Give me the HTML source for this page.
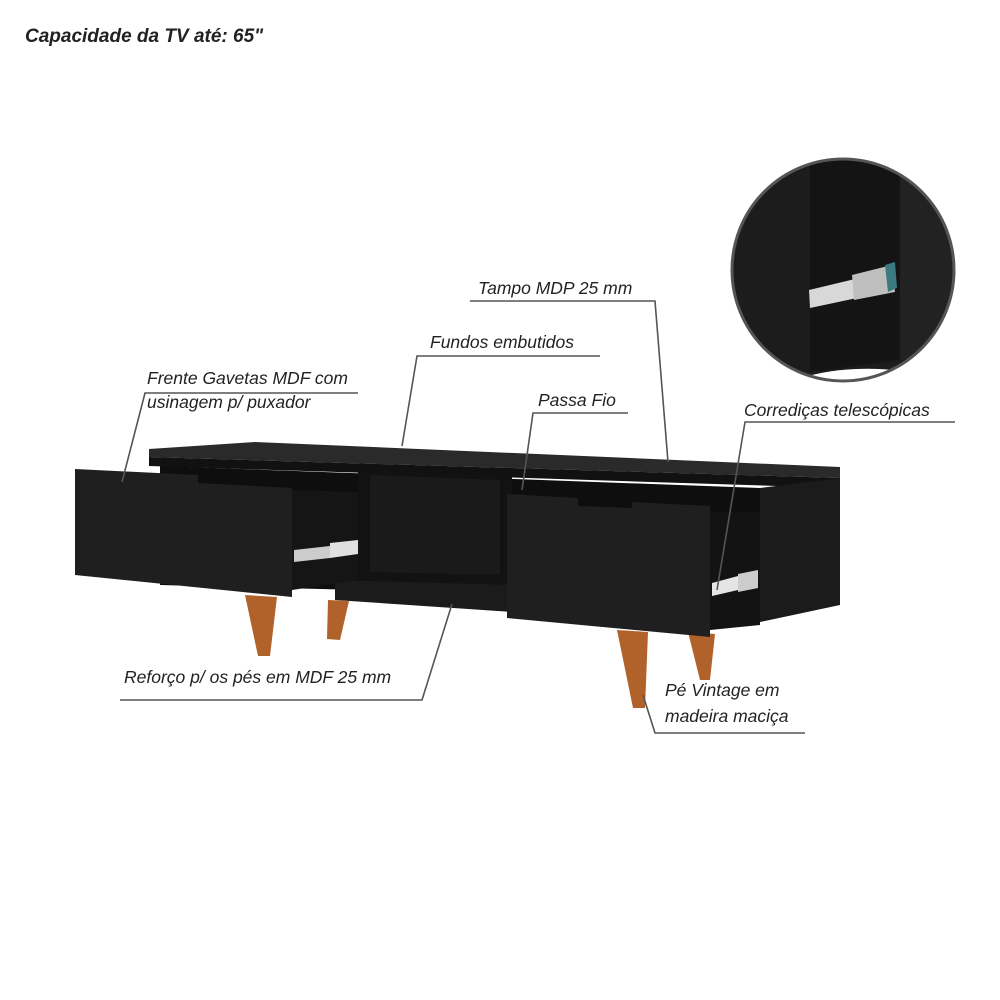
<!DOCTYPE html>
<html><head><style>
body{margin:0;background:#fff;}
svg{display:block;}
text{font-family:"Liberation Sans",sans-serif;font-style:italic;fill:#222;}
</style></head><body>
<svg width="1000" height="1000" viewBox="0 0 1000 1000">
<defs><clipPath id="c"><circle cx="843" cy="270" r="110"/></clipPath></defs>
<text x="25" y="42" font-size="19" font-weight="bold">Capacidade da TV até: 65"</text>

<!-- circle detail -->
<circle cx="843" cy="270" r="111" fill="#1c1c1c"/>
<g clip-path="url(#c)">
<polygon points="810,150 900,150 900,360 810,372" fill="#141414"/>
<polygon points="900,150 960,150 960,350 900,360" fill="#222"/>
<path d="M812,375 Q850,366 895,370 L900,390 L805,390 Z" fill="#fff"/>
<polygon points="809,290 855,279 857,298 810,308" fill="#d8d8d8"/>
<polygon points="852,275 892,265 895,292 854,300" fill="#bfbfbf"/>
<polygon points="885,265 895,262 897,288 888,292" fill="#3a7a80"/>
</g>
<circle cx="843" cy="270" r="111" fill="none" stroke="#555" stroke-width="3"/>

<!-- body -->
<polygon points="149,449 255,442 840,467 840,478 149,457" fill="#2a2a2a"/>
<polygon points="149,457 840,478 840,488 149,466" fill="#111"/>
<polygon points="160,466 760,488 760,600 160,585" fill="#0e0e0e"/>
<polygon points="358,470 512,476 512,600 358,596" fill="#121212"/>
<polygon points="370,475 500,480 500,575 370,572" fill="#1a1a1a"/>
<polygon points="335,580 512,585 512,612 335,600" fill="#1b1b1b"/>
<polygon points="760,488 840,478 840,605 760,622" fill="#1b1b1b"/>
<polygon points="710,512 760,512 760,625 710,630" fill="#131313"/>
<polygon points="292,490 358,492 358,580 292,590" fill="#151515"/>

<!-- legs -->
<polygon points="245,595 277,597 270,656 258,656" fill="#b0622a"/>
<polygon points="328,600 349,601 340,640 327,639" fill="#b0622a"/>
<polygon points="617,630 648,632 645,708 633,708" fill="#b0622a"/>
<polygon points="688,632 715,634 710,680 700,680" fill="#b0622a"/>

<!-- drawer fronts -->
<polygon points="75,469 198,475 198,483 292,488 292,597 75,575" fill="#1f1f1f"/>
<polygon points="507,494 578,498 578,506 632,508 632,502 710,506 710,637 507,618" fill="#1f1f1f"/>

<!-- slides -->
<polygon points="294,550 330,546 330,558 294,562" fill="#ccc"/>
<polygon points="330,543 358,540 358,554 330,558" fill="#e0e0e0"/>
<polygon points="712,583 738,576 738,590 712,596" fill="#e5e5e5"/>
<polygon points="738,574 758,570 758,588 738,592" fill="#ccc"/>

<!-- leader lines -->
<g stroke="#555" stroke-width="1.6" fill="none">
<polyline points="122,482 145,393 358,393"/>
<polyline points="402,446 417,356 600,356"/>
<polyline points="668,462 655,301 470,301"/>
<polyline points="522,490 533,413 628,413"/>
<polyline points="717,590 745,422 955,422"/>
<polyline points="452,604 422,700 120,700"/>
<polyline points="643,695 655,733 805,733"/>
</g>

<g font-size="17.5">
<text x="147" y="384">Frente Gavetas MDF com</text>
<text x="147" y="408">usinagem p/ puxador</text>
<text x="430" y="348">Fundos embutidos</text>
<text x="478" y="294">Tampo MDP 25 mm</text>
<text x="538" y="406">Passa Fio</text>
<text x="744" y="416">Corrediças telescópicas</text>
<text x="124" y="683">Reforço p/ os pés em MDF 25 mm</text>
<text x="665" y="696">Pé Vintage em</text>
<text x="665" y="722">madeira maciça</text>
</g>
</svg>
</body></html>
